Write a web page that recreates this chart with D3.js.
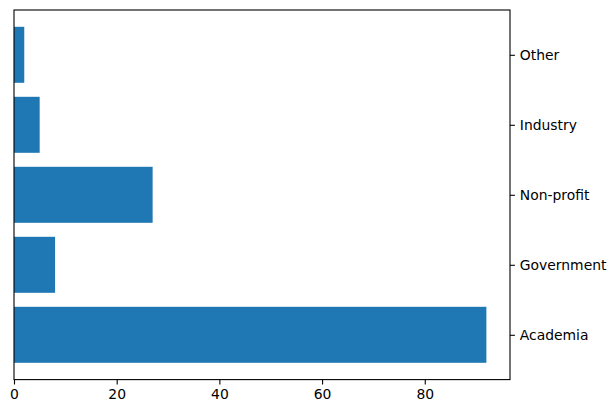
<!DOCTYPE html>
<html>
<head>
<meta charset="utf-8">
<script src="https://cdn.jsdelivr.net/npm/d3@7"></script>
<style>
  body { margin: 0; background: #fff; }
  svg { display: block; font-family: "DejaVu Sans", sans-serif; }
  .tick text { font-size: 13.9px; fill: #000; font-family: "DejaVu Sans", sans-serif; }
  .tick line { stroke: #000; stroke-width: 1.1; }
  .domain { display: none; }
</style>
</head>
<body>
<div class="home"></div>
<script>
// categories from bottom to top, as in the picture
var categories = ["Academia", "Government", "Non-profit", "Industry", "Other"];
var counts = [92, 8, 27, 5, 2];
var xTicks = [0, 20, 40, 60, 80];

var width = 616,
    height = 413;

// plot area (matplotlib default axes box)
var margin = { left: 14, top: 10 },
    plotW = 496,
    plotH = 369.6;

var svg = d3.select(".home").append("svg")
    .attr("width", width)
    .attr("height", height);

var g = svg.append("g")
    .attr("transform", "translate(" + margin.left + "," + margin.top + ")");

// x goes from 0 to max + 5% margin
var x = d3.scaleLinear()
    .domain([0, d3.max(counts) * 1.05])
    .range([0, plotW]);

// bar centres sit on integer positions, bar height 0.8
var n = categories.length;
var pad = (n - 1 + 0.8) * 0.05;
var y = d3.scaleLinear()
    .domain([-0.4 - pad, n - 1 + 0.4 + pad])
    .range([plotH, 0]);

g.selectAll(".bar")
    .data(counts)
    .enter().append("rect")
    .attr("class", "bar")
    .attr("x", x(0))
    .attr("y", function (d, i) { return y(i + 0.4); })
    .attr("width", function (d) { return x(d) - x(0); })
    .attr("height", function (d, i) { return y(i - 0.4) - y(i + 0.4); })
    .style("fill", "#1f77b4");

// bottom axis
g.append("g")
    .attr("transform", "translate(0," + plotH + ")")
    .call(d3.axisBottom(x).tickValues(xTicks).tickFormat(d3.format("d"))
        .tickSize(4.9).tickPadding(4.9));

// right axis with category names
g.append("g")
    .attr("transform", "translate(" + plotW + ",0)")
    .call(d3.axisRight(y).tickValues(d3.range(n))
        .tickFormat(function (d) { return categories[d]; })
        .tickSize(4.9).tickPadding(4.9));

// frame
g.append("rect")
    .attr("width", plotW)
    .attr("height", plotH)
    .style("fill", "none")
    .style("stroke", "#000")
    .style("stroke-width", 1.1);
</script>
</body>
</html>
